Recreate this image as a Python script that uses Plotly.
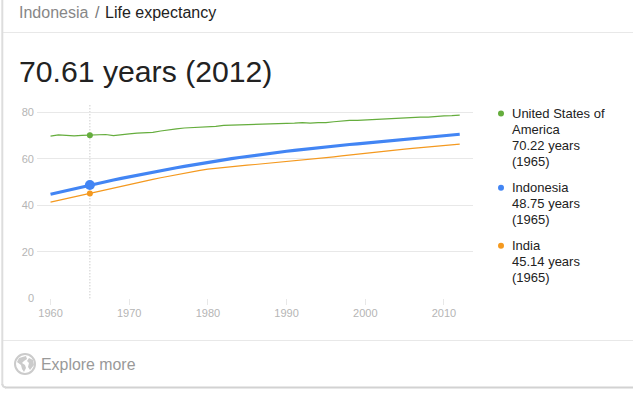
import plotly.graph_objects as go

W, H = 633, 393
years = list(range(1960, 2013))
usa = [69.8,70.3,70.1,69.9,70.1,70.22,70.2,70.5,70.0,70.5,70.8,71.1,71.2,71.4,72.0,72.6,72.9,73.3,73.4,73.8,
       73.7,74.0,74.4,74.5,74.6,74.6,74.6,74.8,74.8,75.0,75.2,75.4,75.6,75.4,75.6,75.6,76.0,76.4,76.6,76.6,
       76.8,76.9,76.9,77.1,77.5,77.5,77.7,78.0,78.0,78.4,78.5,78.6,78.8]
indonesia = [44.8,45.6,46.4,47.2,48.0,48.75,49.5,50.2,50.9,51.6,52.3,53.0,53.7,54.4,55.0,55.6,56.2,56.8,57.4,58.0,
             58.6,59.1,59.6,60.1,60.6,61.1,61.5,62.0,62.4,62.9,63.3,63.7,64.1,64.5,64.9,65.2,65.6,65.9,66.2,66.5,
             66.8,67.1,67.4,67.7,68.0,68.3,68.6,68.9,69.2,69.6,69.9,70.3,70.61]
india = [41.4,42.1,42.9,43.6,44.4,45.14,45.9,46.7,47.5,48.2,49.0,49.7,50.5,51.2,51.9,52.6,53.3,53.9,54.5,55.1,
         55.6,56.0,56.4,56.7,57.0,57.3,57.6,57.9,58.2,58.5,58.9,59.2,59.5,59.9,60.2,60.6,60.9,61.3,61.7,62.1,
         62.5,62.8,63.2,63.5,63.9,64.2,64.5,64.8,65.1,65.5,65.8,66.1,66.4]
selected_year = 1965
x_ticks = [1960,1970,1980,1990,2000,2010]
y_ticks = [0,20,40,60,80]
legend_lines = [
    (["United States of", "America", "70.22 years", "(1965)"], "#65ad3d", 113.5),
    (["Indonesia", "48.75 years", "(1965)"], "#4285f4", 187.7),
    (["India", "45.14 years", "(1965)"], "#f4991f", 245.7),
]
FONT = "Liberation Sans, Arial, sans-serif"

def px(x): return x / W
def py(y): return 1 - y / H

def poly(points):
    return "M " + " L ".join(f"{px(a)} {py(b)}" for a, b in points) + " Z"

fig = go.Figure()
idx = years.index(selected_year)
for name, vals, col, lw, ms in [("United States of America", usa, "#65ad3d", 1.2, 6),
                                ("India", india, "#f4991f", 1.2, 6),
                                ("Indonesia", indonesia, "#4285f4", 3.2, 10)]:
    fig.add_trace(go.Scatter(x=years, y=vals, mode="lines", name=name, line=dict(color=col, width=lw), hoverinfo="skip"))
    fig.add_trace(go.Scatter(x=[selected_year], y=[vals[idx]], mode="markers", name=name,
                             marker=dict(color=col, size=ms), hoverinfo="skip"))

GLOBE = "#cbcbcb"
shapes = [
    dict(type="line", xref="x", yref="paper", x0=selected_year, x1=selected_year, y0=py(298.3), y1=py(105),
         line=dict(color="#b5b5b5", width=1, dash="1px,2px"), layer="below"),
    dict(type="line", xref="paper", yref="paper", x0=px(2.5), x1=px(633), y0=py(32.5), y1=py(32.5), line=dict(color="#e8e8e8", width=1)),
    dict(type="line", xref="paper", yref="paper", x0=px(2.5), x1=px(633), y0=py(340.5), y1=py(340.5), line=dict(color="#e8e8e8", width=1)),
    dict(type="line", xref="paper", yref="paper", x0=px(2.3), x1=px(2.3), y0=py(0), y1=py(385), line=dict(color="#dddddd", width=2)),
    dict(type="line", xref="paper", yref="paper", x0=px(5), x1=px(633), y0=py(387.5), y1=py(387.5), line=dict(color="#d2d2d2", width=2)),
    dict(type="path", xref="paper", yref="paper",
         path=f"M {px(2.3)} {py(384)} Q {px(2.5)} {py(387.3)} {px(6)} {py(387.5)}", line=dict(color="#d8d8d8", width=2)),
    dict(type="circle", xref="paper", yref="paper", x0=px(15), x1=px(35), y0=py(374), y1=py(354),
         fillcolor="#ffffff", line=dict(color=GLOBE, width=2)),
    dict(type="path", xref="paper", yref="paper",
         path=poly([(19, 358), (26, 356), (27, 359), (24, 361), (22, 363), (25, 365), (26, 368), (24, 372),
                    (22, 369), (21, 365), (17, 362)]),
         fillcolor=GLOBE, line=dict(width=0)),
    dict(type="path", xref="paper", yref="paper",
         path=poly([(29, 358), (33, 360), (34, 365), (30, 370), (28, 367), (29, 363), (27, 361)]),
         fillcolor=GLOBE, line=dict(width=0)),
]

annotations = [
    dict(text="Indonesia", x=px(17), y=py(12), font=dict(size=16, color="#878787")),
    dict(text="/", x=px(93), y=py(12), font=dict(size=16, color="#777777")),
    dict(text="Life expectancy", x=px(103), y=py(12), font=dict(size=16, color="#222222")),
    dict(text="70.61 years (2012)", x=px(16.5), y=py(72), font=dict(size=30.2, color="#222222")),
    dict(text="Explore more", x=px(38.5), y=py(364.5), font=dict(size=15.9, color="#999999")),
]
for lines, col, first_y in legend_lines:
    for i, text in enumerate(lines):
        annotations.append(dict(text=text, x=px(510), y=py(first_y + 16 * i), font=dict(size=13, color="#222222")))
    shapes.append(dict(type="circle", xref="paper", yref="paper", x0=px(498), x1=px(504),
                       y0=py(first_y + 3), y1=py(first_y - 3), fillcolor=col, line=dict(width=0)))
for a in annotations:
    a.update(xref="paper", yref="paper", xanchor="left", yanchor="middle", showarrow=False,
             font=dict(family=FONT, **a["font"]))

fig.update_layout(
    width=W, height=H, autosize=False, margin=dict(l=0, r=0, t=0, b=0),
    paper_bgcolor="#ffffff", plot_bgcolor="#ffffff", showlegend=False,
    shapes=shapes, annotations=annotations, font=dict(family=FONT),
    xaxis=dict(domain=[px(37), px(472.7)], range=[1958.28, 2013.65], tickvals=x_ticks, ticks="outside", ticklen=6,
               tickcolor="#e8e8e8", tickwidth=1, showgrid=False, zeroline=False, showline=False, automargin=False,
               ticklabelstandoff=-2, tickfont=dict(size=11, color="#b5b5b5", family=FONT)),
    yaxis=dict(domain=[py(298.3), py(105)], range=[0, 83.2], tickvals=y_ticks, showgrid=True, gridcolor="#e8e8e8",
               gridwidth=1, zeroline=False, showline=False, ticks="", ticklabelstandoff=2, automargin=False,
               tickfont=dict(size=11, color="#b5b5b5", family=FONT)),
)
fig.write_html("out.html", config={"displayModeBar": False}, post_script="document.body.style.margin='0';")
